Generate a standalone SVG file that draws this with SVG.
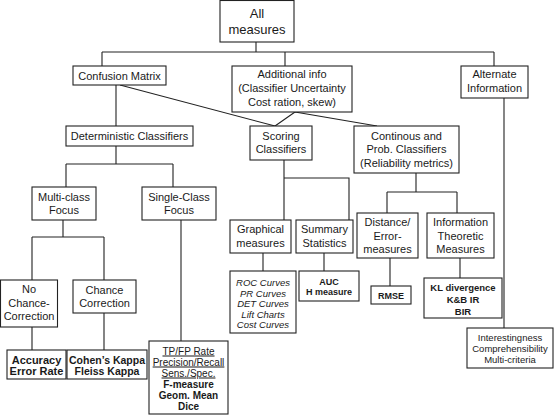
<svg xmlns="http://www.w3.org/2000/svg" width="555" height="415" viewBox="0 0 555 415">
<style>
rect{fill:#fff;stroke:#222;stroke-width:1.1}
.c path{fill:none;stroke:#222;stroke-width:1.1}
text{font-family:"Liberation Sans",Arial,sans-serif;font-size:11px;fill:#1a1a1a;text-anchor:middle}
.b{font-weight:bold}
.i{font-style:italic;font-size:9.5px}
.u{text-decoration:underline}
</style>
<rect x="0" y="0" width="555" height="415" style="stroke:none"/>
<g class="c" id="connectors">
<path d="M256 42V52M102 52H494M102 52V66M285 52V66M494 52V66"/>
<path d="M120 85L275 126M295 112L275 126M295 112L377 126"/>
<path d="M116 85V126"/>
<path d="M116 146V164M66 164H173M66 164V187M173 164V187"/>
<path d="M63 220V237M32 237H104M32 237V280M104 237V280"/>
<path d="M32 327V350M104 313V350"/>
<path d="M181 220V341"/>
<path d="M284 160V220M284 178H349V220"/>
<path d="M263 253V271M324 253V271"/>
<path d="M416 173V192M387 192H457M387 192V213M457 192V213"/>
<path d="M390 258V286M460 258V278"/>
<path d="M504 98V328"/>
</g>
<g id="all"><rect x="220" y="0.5" width="74" height="41.5"/><text x="257" y="18" style="font-size:13px">All</text><text x="257" y="34" style="font-size:13px">measures</text></g>
<g id="confusion"><rect x="73" y="66" width="93" height="19"/><text x="119.5" y="79.5">Confusion Matrix</text></g>
<g id="additional"><rect x="232" y="66" width="120" height="46"/><text x="292" y="78">Additional info</text><text x="292" y="92">(Classifier Uncertainty</text><text x="292" y="106">Cost ration, skew)</text></g>
<g id="alternate"><rect x="461" y="66" width="67" height="32"/><text x="494.5" y="78">Alternate</text><text x="494.5" y="92">Information</text></g>
<g id="deterministic"><rect x="66" y="126" width="127" height="20"/><text x="129.5" y="140">Deterministic Classifiers</text></g>
<g id="scoring"><rect x="250" y="126" width="62" height="34"/><text x="281" y="140">Scoring</text><text x="281" y="153">Classifiers</text></g>
<g id="continous"><rect x="354" y="126" width="105" height="47"/><text x="406.5" y="140">Continous and</text><text x="406.5" y="153">Prob. Classifiers</text><text x="406.5" y="167">(Reliability metrics)</text></g>
<g id="multiclass"><rect x="32" y="187" width="64" height="33"/><text x="64" y="201">Multi-class</text><text x="64" y="214">Focus</text></g>
<g id="singleclass"><rect x="142" y="187" width="74" height="33"/><text x="179" y="201">Single-Class</text><text x="179" y="214">Focus</text></g>
<g id="graphical"><rect x="230" y="220" width="61" height="33"/><text x="260.5" y="233">Graphical</text><text x="260.5" y="247">measures</text></g>
<g id="summary"><rect x="296" y="220" width="57" height="33"/><text x="324.5" y="233">Summary</text><text x="324.5" y="247">Statistics</text></g>
<g id="distance"><rect x="357" y="213" width="61" height="45"/><text x="387.5" y="226">Distance/</text><text x="387.5" y="240">Error-</text><text x="387.5" y="253">measures</text></g>
<g id="information"><rect x="427" y="213" width="67" height="45"/><text x="460.5" y="226">Information</text><text x="460.5" y="240">Theoretic</text><text x="460.5" y="253">Measures</text></g>
<g id="nochance"><rect x="0.5" y="280" width="57" height="47"/><text x="29" y="293">No</text><text x="29" y="307">Chance-</text><text x="29" y="320">Correction</text></g>
<g id="chance"><rect x="73" y="280" width="63" height="33"/><text x="104.5" y="294">Chance</text><text x="104.5" y="307">Correction</text></g>
<g id="curves"><rect x="230" y="271" width="66" height="62"/><text class="i" x="263" y="285.5">ROC Curves</text><text class="i" x="263" y="296.5">PR Curves</text><text class="i" x="263" y="307">DET Curves</text><text class="i" x="263" y="317.5">Lift Charts</text><text class="i" x="263" y="328">Cost Curves</text></g>
<g id="auc"><rect x="299" y="271" width="60" height="30"/><text class="b" x="329" y="284.5" style="font-size:9px">AUC</text><text class="b" x="329" y="294.5" style="font-size:9px">H measure</text></g>
<g id="rmse"><rect x="371" y="286" width="40" height="18"/><text class="b" x="391" y="299" style="font-size:9px">RMSE</text></g>
<g id="kl"><rect x="424" y="278" width="78" height="40"/><text class="b" x="463" y="290.5" style="font-size:9.5px">KL divergence</text><text class="b" x="463" y="302.5" style="font-size:9.5px">K&amp;B IR</text><text class="b" x="463" y="314.5" style="font-size:9.5px">BIR</text></g>
<g id="accuracy"><rect x="7" y="350" width="59" height="29"/><text class="b" x="36.5" y="364">Accuracy</text><text class="b" x="36.5" y="375">Error Rate</text></g>
<g id="cohen"><rect x="67" y="350" width="80" height="29"/><text class="b" x="107" y="364" style="font-size:10.5px">Cohen’s Kappa</text><text class="b" x="107" y="375" style="font-size:10.5px">Fleiss Kappa</text></g>
<g id="tpfp"><rect x="149" y="341" width="79" height="73"/><text class="u" x="188.5" y="354.5" style="font-size:10px">TP/FP Rate</text><text class="u" x="188.5" y="365.5" style="font-size:10px">Precision/Recall</text><text class="u" x="188.5" y="376.5" style="font-size:10px">Sens./Spec.</text><text class="b" x="188.5" y="387.5" style="font-size:10px">F-measure</text><text class="b" x="188.5" y="398.5" style="font-size:10px">Geom. Mean</text><text class="b" x="188.5" y="409.5" style="font-size:10px">Dice</text></g>
<g id="interest"><rect x="467" y="328" width="86" height="40"/><text x="510" y="340.5" style="font-size:9.5px">Interestingness</text><text x="510" y="351.5" style="font-size:9.5px">Comprehensibility</text><text x="510" y="362.5" style="font-size:9.5px">Multi-criteria</text></g>
</svg>
